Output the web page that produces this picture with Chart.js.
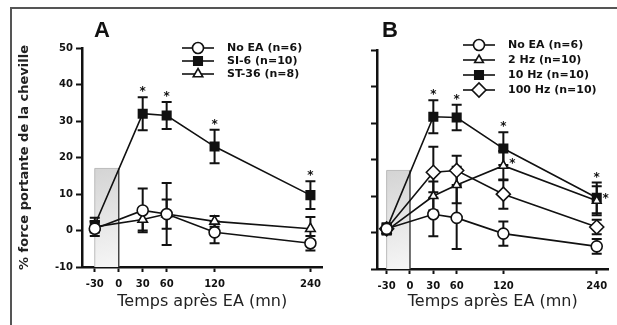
<!DOCTYPE html>
<html>
<head>
<meta charset="utf-8">
<script src="https://cdn.jsdelivr.net/npm/chart.js@4"></script>
<style>
  body { margin: 0; background: #fff; width: 617px; height: 325px; overflow: hidden; position: relative; }
  #frame { position: absolute; left: 10px; top: 7px; width: 640px; height: 340px; border-top: 2px solid #555; border-left: 2px solid #555; }
  .box { position: absolute; }
  .letter { position: absolute; font: bold 22px "Liberation Sans", Arial, sans-serif; color: #111; }
</style>
</head>
<body>
<div id="frame"></div>
<canvas id="chartA" class="box" width="318" height="310" style="left:12px;top:10px"></canvas>
<canvas id="chartB" class="box" width="287" height="310" style="left:330px;top:10px"></canvas>
<div class="letter" style="left:94px;top:17px">A</div>
<div class="letter" style="left:382px;top:17px">B</div>
<script>
// time points (mn) and axis ticks
const times = [-30, 30, 60, 120, 240];
const xTicks = [-30, 0, 30, 60, 120, 240];
const yTicks = [-10, 0, 10, 20, 30, 40, 50];

// panel A
const noEaA = [0.5, 5.5, 4.5, -0.5, -3.5];
const noEaAErr = [2, 6, 8.5, 3, 2];
const si6A = [1.5, 32, 31.5, 23, 9.7];
const si6AErr = [2, 4.5, 3.7, 4.6, 3.8];
const st36A = [1, 3, 4.5, 2.5, 0.5];
const st36AErr = [1.5, 3, 4, 1.5, 3.2];
const si6AStars = [false, true, true, true, true];

// panel B
const noEaB = [1, 5, 4, -0.3, -3.8];
const noEaBErr = [1.5, 6, 8.5, 3.3, 2];
const hz2B = [0.5, 10, 13, 18.3, 8.7];
const hz2BErr = [1, 4, 5, 4, 4];
const hz10B = [1, 31.7, 31.5, 23, 9.5];
const hz10BErr = [1, 4.5, 3.5, 4.5, 4.2];
const hz100B = [1, 16.5, 17, 10.5, 1.5];
const hz100BErr = [1.5, 7, 4, 4, 2];
const hz10BStars = [false, true, true, true, true];
const hz2BSideStars = [false, false, false, true, true];

const legendA = ['No EA (n=6)', 'SI-6 (n=10)', 'ST-36 (n=8)'];
const legendB = ['No EA (n=6)', '2 Hz (n=10)', '10 Hz (n=10)', '100 Hz (n=10)'];

// stimulation window shaded on both panels
const shadeX = [-30, 0];
const shadeTop = 17;

const INK = '#111';
const FONT = '"DejaVu Sans", sans-serif';

function pts(vals) {
  return vals.map((v, i) => ({ x: times[i], y: v }));
}

function series(label, vals, errs, style, fill, radius, stars, sideStars) {
  return {
    label: label,
    data: pts(vals),
    errors: errs,
    stars: stars || [],
    sideStars: sideStars || [],
    borderColor: INK,
    borderWidth: 1.6,
    pointStyle: style,
    pointRadius: radius,
    pointBackgroundColor: fill,
    pointBorderColor: INK,
    pointBorderWidth: 1.6,
    tension: 0
  };
}

const decor = {
  id: 'decor',
  beforeDatasetsDraw(chart) {
    const { ctx, scales: { x, y } } = chart;
    ctx.save();
    // shaded box
    const x0 = x.getPixelForValue(shadeX[0]), x1 = x.getPixelForValue(shadeX[1]);
    const yt = y.getPixelForValue(shadeTop), yb = y.getPixelForValue(-10);
    const g = ctx.createLinearGradient(x0, yt, x1, yb);
    g.addColorStop(0, '#d4d4d4');
    g.addColorStop(1, '#f6f6f6');
    ctx.fillStyle = g;
    ctx.fillRect(x0, yt, x1 - x0, yb - yt);
    ctx.strokeStyle = '#bbb';
    ctx.lineWidth = 1;
    ctx.beginPath();
    ctx.moveTo(x0, yb); ctx.lineTo(x0, yt); ctx.lineTo(x1, yt);
    ctx.stroke();
    ctx.strokeStyle = '#444';
    ctx.lineWidth = 1.5;
    ctx.beginPath();
    ctx.moveTo(x1, yt); ctx.lineTo(x1, yb);
    ctx.stroke();

    // error bars
    ctx.strokeStyle = INK;
    ctx.lineWidth = 2;
    chart.data.datasets.forEach(ds => {
      ds.data.forEach((p, i) => {
        const e = ds.errors[i];
        const px = x.getPixelForValue(p.x);
        const t = y.getPixelForValue(p.y + e);
        const b = y.getPixelForValue(p.y - e);
        ctx.beginPath();
        ctx.moveTo(px, t); ctx.lineTo(px, b);
        ctx.moveTo(px - 5, t); ctx.lineTo(px + 5, t);
        ctx.moveTo(px - 5, b); ctx.lineTo(px + 5, b);
        ctx.stroke();
      });
    });
    ctx.restore();
  },
  afterDatasetsDraw(chart, args, opts) {
    const { ctx, scales: { x, y } } = chart;
    ctx.save();
    ctx.fillStyle = INK;
    ctx.font = 'bold 12px ' + FONT;
    ctx.textAlign = 'center';
    ctx.textBaseline = 'middle';
    chart.data.datasets.forEach(ds => {
      ds.data.forEach((p, i) => {
        const px = x.getPixelForValue(p.x);
        if (ds.stars[i]) {
          ctx.fillText('*', px, y.getPixelForValue(p.y + ds.errors[i]) - 5);
        }
        if (ds.sideStars[i]) {
          ctx.fillText('*', px + 9, y.getPixelForValue(p.y) - 2);
        }
      });
    });

    // legend: line with marker, then label
    const lg = opts.legend;
    ctx.font = 'bold 11px ' + FONT;
    ctx.textAlign = 'left';
    lg.order.forEach((di, row) => {
      const ds = chart.data.datasets[di];
      const ly = lg.y + row * lg.rowH;
      ctx.strokeStyle = INK;
      ctx.lineWidth = 1.6;
      ctx.beginPath();
      ctx.moveTo(lg.x, ly); ctx.lineTo(lg.x + 32, ly);
      ctx.stroke();
      ctx.fillStyle = ds.pointBackgroundColor;
      ctx.strokeStyle = INK;
      Chart.helpers.drawPoint(ctx, { pointStyle: ds.pointStyle, radius: ds.pointRadius, borderWidth: 1.6 }, lg.x + 16, ly);
      ctx.fillStyle = INK;
      ctx.fillText(ds.label, lg.x + 45, ly);
    });
    ctx.restore();
  }
};

function makeScales(xMin, xMax, yWidth, xHeight, showY) {
  return {
    x: {
      type: 'linear', min: xMin, max: xMax,
      afterBuildTicks: s => { s.ticks = xTicks.map(v => ({ value: v })); },
      afterFit: s => { s.height = xHeight; },
      grid: { display: true, drawOnChartArea: false, drawTicks: true, tickLength: 5, tickWidth: 2, tickColor: INK },
      border: { display: true, width: 2.5, color: INK },
      ticks: { color: INK, font: { family: FONT, size: 10, weight: 'bold' }, padding: 6, maxRotation: 0, autoSkip: false },
      title: { display: true, text: 'Temps après EA (mn)', color: '#222', font: { family: FONT, size: 16 }, padding: { top: 0, bottom: 9 } }
    },
    y: {
      min: -10, max: 50,
      afterBuildTicks: s => { s.ticks = yTicks.map(v => ({ value: v })); },
      afterFit: s => { s.width = yWidth; },
      grid: { display: true, drawOnChartArea: false, drawTicks: true, tickLength: 6, tickWidth: 2, tickColor: INK },
      border: { display: true, width: 2.5, color: INK },
      ticks: { color: showY ? INK : 'rgba(0,0,0,0)', font: { family: FONT, size: 10, weight: 'bold' }, padding: 3 },
      title: { display: showY, text: '% force portante de la cheville', color: '#222', font: { family: FONT, size: 13, weight: 'bold' }, padding: { top: 5, bottom: 0 } }
    }
  };
}

const chartA = new Chart(document.getElementById('chartA'), {
  type: 'line',
  data: {
    datasets: [
      series(legendA[0], noEaA, noEaAErr, 'circle', '#fff', 5.5),
      series(legendA[1], si6A, si6AErr, 'rect', INK, 6, si6AStars),
      series(legendA[2], st36A, st36AErr, 'triangle', '#fff', 5.5)
    ]
  },
  options: {
    responsive: false,
    animation: false,
    layout: { padding: { top: 38, right: 5, left: 0, bottom: 0 } },
    scales: makeScales(-46, 255, 70, 53, true),
    plugins: {
      legend: { display: false },
      tooltip: { enabled: false },
      decor: { legend: { x: 170, y: 38, rowH: 13, order: [0, 1, 2] } }
    }
  },
  plugins: [decor]
});

const chartB = new Chart(document.getElementById('chartB'), {
  type: 'line',
  data: {
    datasets: [
      series(legendB[0], noEaB, noEaBErr, 'circle', '#fff', 5.5),
      series(legendB[1], hz2B, hz2BErr, 'triangle', '#fff', 5, null, hz2BSideStars),
      series(legendB[2], hz10B, hz10BErr, 'rect', INK, 6, hz10BStars),
      series(legendB[3], hz100B, hz100BErr, 'rectRot', '#fff', 7)
    ]
  },
  options: {
    responsive: false,
    animation: false,
    layout: { padding: { top: 40, right: 0, left: 0, bottom: 0 } },
    scales: makeScales(-42.4, 255, 47, 51, false),
    plugins: {
      legend: { display: false },
      tooltip: { enabled: false },
      decor: { legend: { x: 133, y: 35, rowH: 15, order: [0, 1, 2, 3] } }
    }
  },
  plugins: [decor]
});
</script>
</body>
</html>
